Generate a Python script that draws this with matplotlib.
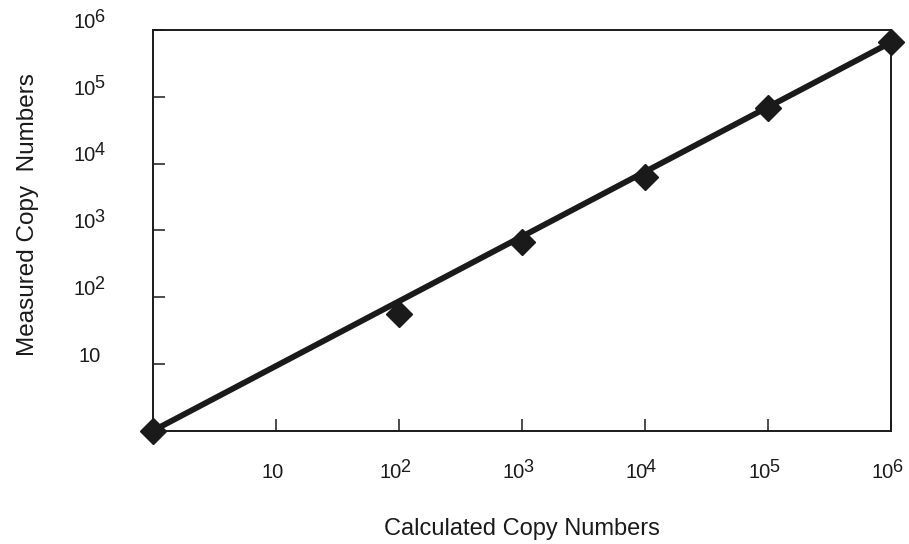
import numpy as np
import matplotlib.pyplot as plt

plt.rcParams['font.family'] = ['Liberation Sans', 'DejaVu Sans']

# data
calculated = [1, 1e2, 1e3, 1e4, 1e5, 1e6]
measured = [1, 56, 680, 6400, 68000, 650000]
fit_x = [1, 1e6]
fit_y = [1, 6.5e5]

tick_vals = [10, 1e2, 1e3, 1e4, 1e5, 1e6]
tick_exps = ['', '2', '3', '4', '5', '6']

ink = '#1a1a1a'
base_fs = 14.5
exp_fs = 13

fig = plt.figure(figsize=(9.09, 5.44), dpi=100)
ax = fig.add_axes([0.168, 0.208, 0.812, 0.737])
renderer = fig.canvas.get_renderer()
px2pt = 72 / fig.dpi


def power_label(val, exp, axis):
    # "10" with a large superscript, centred on the tick
    if axis == 'x':
        xy, coords = (val, 0), ('data', 'axes fraction')
        cx, by = -3, -34
    else:
        xy, coords = (0, val), ('axes fraction', 'data')
        cx, by = -46, 1.5
    kw = dict(xy=xy, xycoords=coords, textcoords='offset points', ha='left',
              va='baseline', color=ink, annotation_clip=False)
    base = ax.annotate('10', xytext=(0, by), fontsize=base_fs, **kw)
    base_w = base.get_window_extent(renderer).width * px2pt - 1.0
    exp_w = 0
    sup = None
    if exp:
        sup = ax.annotate(exp, xytext=(0, by + 4.5), fontsize=exp_fs, **kw)
        exp_w = sup.get_window_extent(renderer).width * px2pt
    x0 = cx - (base_w + exp_w) / 2
    base.xyann = (x0, by)
    if sup is not None:
        sup.xyann = (x0 + base_w, by + 4.5)


ax.plot(fit_x, fit_y, color=ink, linewidth=4.2, solid_capstyle='butt', zorder=2)
ax.plot(calculated, measured, linestyle='none', marker='D', markersize=13,
        color=ink, zorder=3, clip_on=False)

ax.set_xscale('log')
ax.set_yscale('log')
ax.set_xlim(1, 1e6)
ax.set_ylim(1, 1e6)

ax.set_xticks(tick_vals)
ax.set_yticks(tick_vals)
ax.set_xticklabels([])
ax.set_yticklabels([])
ax.minorticks_off()
ax.tick_params(axis='both', direction='in', length=8.5, width=1.1, colors=ink)

for v, e in zip(tick_vals, tick_exps):
    power_label(v, e, 'x')
    power_label(v, e, 'y')

for s in ax.spines.values():
    s.set_linewidth(1.4)
    s.set_color(ink)

fig.text(0.5743, 1 - 535 / 544, 'Calculated Copy Numbers', fontsize=17, color=ink,
         ha='center', va='baseline')
fig.text(28 / 909, 1 - 215 / 544, 'Measured Copy  Numbers', fontsize=17.5, color=ink,
         ha='center', va='center', rotation=90)

fig.savefig('out.png', dpi=100)
